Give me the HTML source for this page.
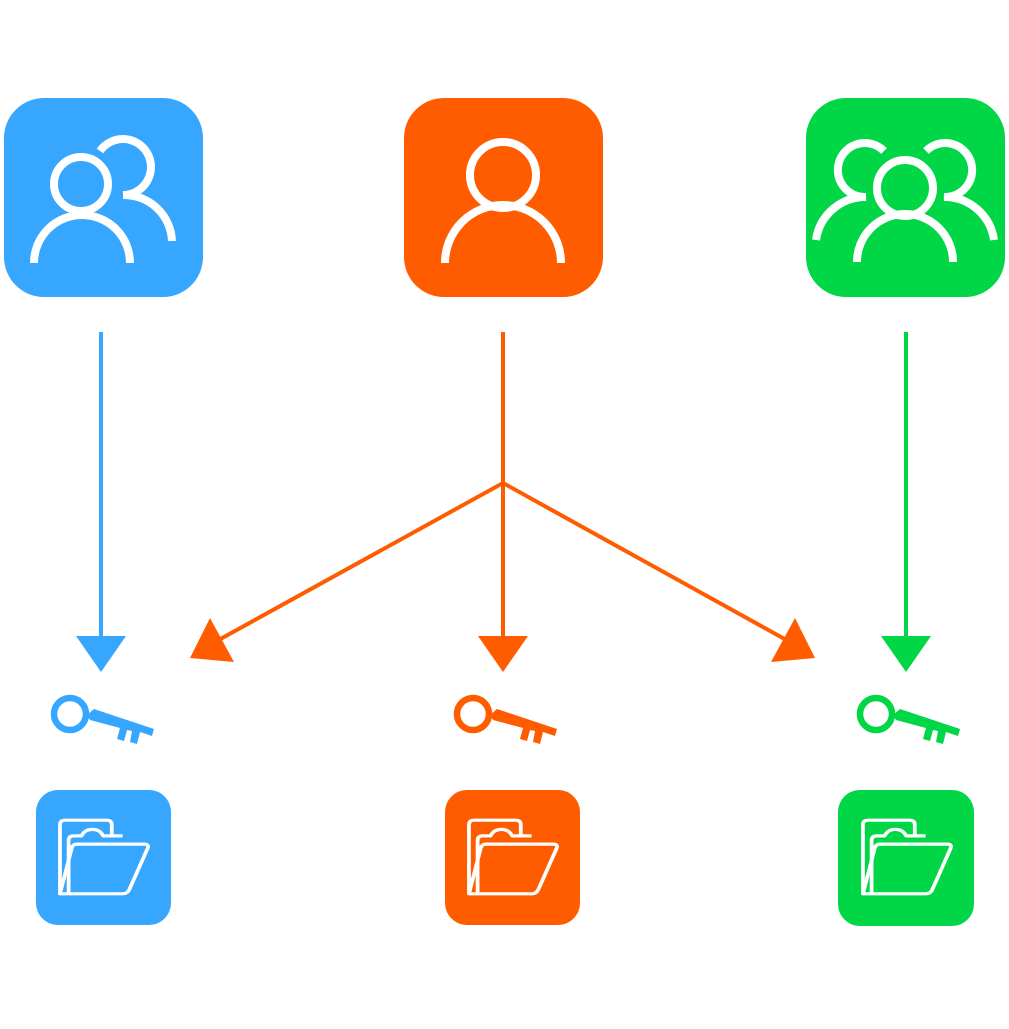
<!DOCTYPE html>
<html><head><meta charset="utf-8"><style>body{margin:0;background:#fff}</style></head>
<body>
<svg width="1009" height="1024" viewBox="0 0 1009 1024" xmlns="http://www.w3.org/2000/svg">
<defs>
<g id="key">
  <circle cx="0" cy="0" r="16" fill="none" stroke-width="6.5"/>
  <path d="M17 1 L24 -5 L84 15 L82 22 L70 18 L67 30 L60 28 L62 17 L57 16 L54 27 L47 25 L50 14 L20 6 Z" stroke="none"/>
</g>
<g id="folder" fill="none" stroke="#fff" stroke-width="3.5" stroke-linejoin="round">
  <path d="M-38 40 L-38 -35 Q-38 -40 -33 -40 L5 -40 Q10 -40 10 -35 L10 -22"/>
  <path d="M-30 40 L-30 -18 Q-30 -23 -25 -23 L-18 -23 Q-15 -30 -8 -30 Q-1 -30 2 -23 L20 -23"/>
  <path d="M-38 40 L-27 -10 Q-26 -14 -22 -14 L40 -14 Q45 -14 43 -9 L26 36 Q24 40 20 40 Z"/>
</g>
</defs>
<rect x="4" y="98" width="199" height="199" rx="40" fill="#36a6fe"/>
<rect x="404" y="98" width="199" height="199" rx="40" fill="#ff5c00"/>
<rect x="806" y="98" width="199" height="199" rx="40" fill="#00d646"/>
<g fill="none" stroke="#fff" stroke-width="8">
  <circle cx="81" cy="184" r="27"/>
  <path d="M34 263 A48 48 0 0 1 130 263"/>
  <path d="M100 151 A28 28 0 1 1 123 195 A48 48 0 0 1 172 241"/>
  <circle cx="503" cy="175" r="33"/>
  <path d="M445 263 A58 58 0 0 1 561 263"/>
  <circle cx="905" cy="188" r="28"/>
  <path d="M857 262 A48 48 0 0 1 953 262"/>
  <path d="M884 151 A27 27 0 1 0 866 197 A50 50 0 0 0 816 240"/>
  <path d="M926 151 A27 27 0 1 1 944 197 A50 50 0 0 1 994 240"/>
</g>
<g stroke-width="4">
  <line x1="101" y1="332" x2="101" y2="640" stroke="#36a6fe"/>
  <line x1="503" y1="332" x2="503" y2="640" stroke="#ff5c00"/>
  <line x1="906" y1="332" x2="906" y2="640" stroke="#00d646"/>
  <line x1="503" y1="483" x2="215" y2="642" stroke="#ff5c00"/>
  <line x1="503" y1="483" x2="790" y2="642" stroke="#ff5c00"/>
</g>
<polygon points="76,636 126,636 101,672" fill="#36a6fe"/>
<polygon points="478,636 528,636 503,672" fill="#ff5c00"/>
<polygon points="881,636 931,636 906,672" fill="#00d646"/>
<polygon points="210,618 190,658 234,662" fill="#ff5c00"/>
<polygon points="795,618 815,658 771,662" fill="#ff5c00"/>
<use href="#key" x="70" y="714" fill="#36a6fe" stroke="#36a6fe"/>
<use href="#key" x="473" y="714" fill="#ff5c00" stroke="#ff5c00"/>
<use href="#key" x="876" y="714" fill="#00d646" stroke="#00d646"/>
<rect x="36" y="790" width="135" height="135" rx="22" fill="#36a6fe"/>
<rect x="445" y="790" width="135" height="135" rx="22" fill="#ff5c00"/>
<rect x="838" y="790" width="136" height="136" rx="22" fill="#00d646"/>
<use href="#folder" transform="translate(101 857) scale(1.08 0.92)"/>
<use href="#folder" transform="translate(510 857) scale(1.08 0.92)"/>
<use href="#folder" transform="translate(904 857) scale(1.08 0.92)"/>
</svg>
</body></html>
